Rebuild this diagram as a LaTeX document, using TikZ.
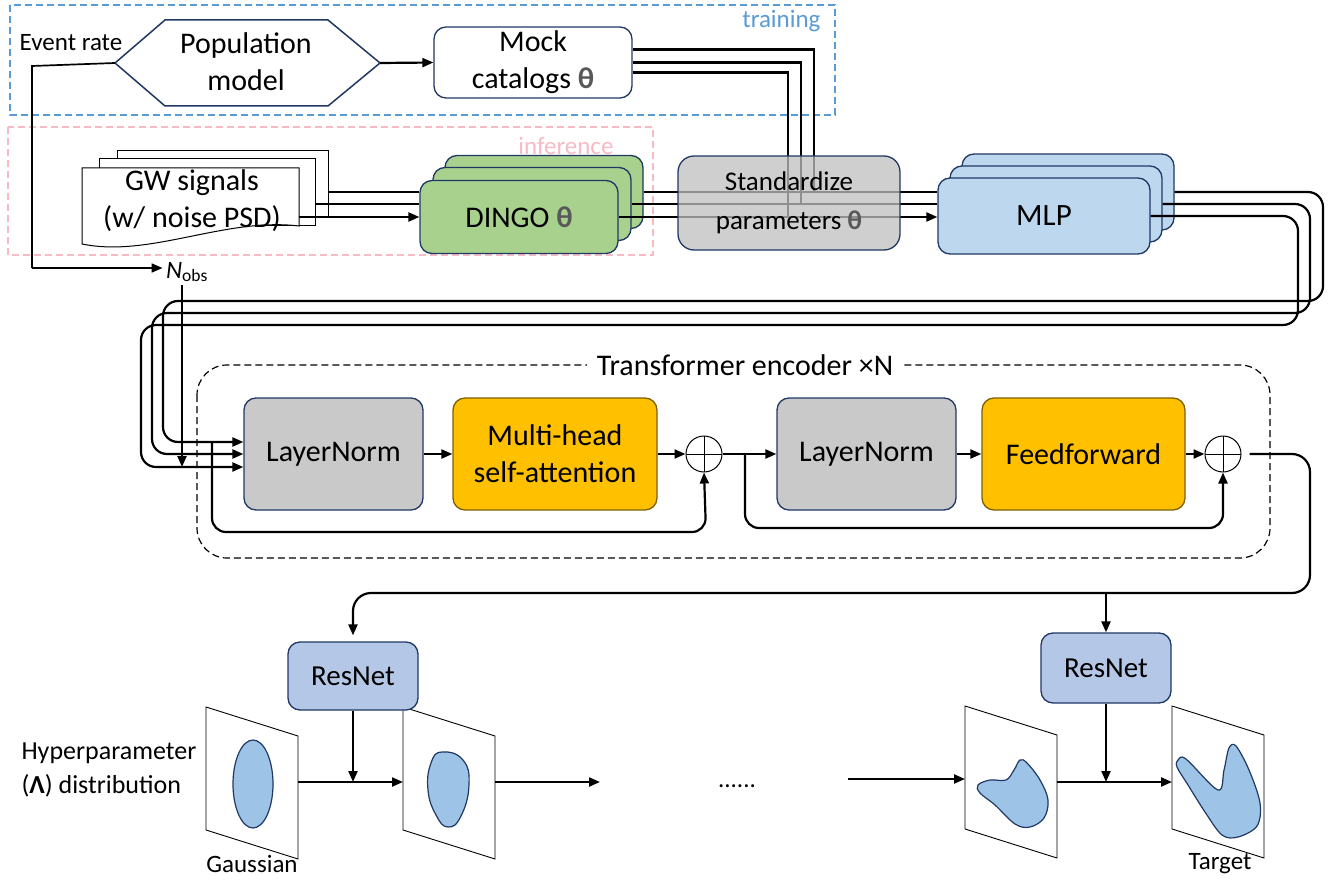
\documentclass[tikz,border=0pt]{standalone}
\usepackage{fontspec}
\setmainfont{Carlito}
\usetikzlibrary{arrows.meta,calc}
\definecolor{navy}{HTML}{203864}
\definecolor{dgreen}{HTML}{A9D18E}
\definecolor{mlpblue}{HTML}{BDD7EE}
\definecolor{lngray}{HTML}{C9C9C9}
\definecolor{stdgray}{HTML}{C0C0C0}
\definecolor{gold}{HTML}{FFC000}
\definecolor{goldline}{HTML}{7F6000}
\definecolor{resblue}{HTML}{B4C7E7}
\definecolor{blobblue}{HTML}{9DC3E6}
\definecolor{trainblue}{HTML}{5B9BD5}
\definecolor{infpink}{HTML}{F8BBC6}
\definecolor{thgray}{HTML}{595959}
\newcommand\myfs[2]{\fontsize{#1}{#2}\selectfont}
\newcommand\mytheta{\textcolor{thgray}{\textbf{θ}}}
\newcommand\myplane[2]{\draw[line width=0.9pt, fill=white] (#1,#2) -- ++(92,29) -- ++(0,123) -- ++(-92,-29) -- cycle;}
\begin{document}
\begin{tikzpicture}[x=1pt,y=-1pt,
  wire/.style={line width=2.2pt},
  thinwire/.style={line width=1.7pt},
  arr/.style={line width=2.2pt,-{Triangle[length=11pt,width=9pt]}},
  box/.style={draw=navy,line width=1.3pt,rounded corners=12pt,align=center,inner sep=0pt},
  big/.style={font=\myfs{30}{37}},
  small/.style={font=\myfs{25}{30}},
  regionbox/.style={line width=1.3pt,dash pattern=on 7pt off 4pt},
  oplus/.style={circle,draw,line width=1pt,minimum size=36pt,inner sep=0pt,
    path picture={\draw[line width=1pt] (path picture bounding box.north) -- (path picture bounding box.south)
      (path picture bounding box.west) -- (path picture bounding box.east);}},
  blob/.style={draw=navy,line width=1.2pt,fill=blobblue}]
\fill[white] (0,0) rectangle (1328,880);
\useasboundingbox (0,0) rectangle (1328,880);

% ---------- regions ----------
\draw[regionbox, trainblue] (10,5) rectangle (835,115);
\node[small, text=trainblue, anchor=east] (trainlbl) at (824,21) {training};
\draw[regionbox, infpink] (8,127) rectangle (653,255);
\node[small, text=infpink, anchor=east] (inflbl) at (617,146) {inference};

% ---------- population model ----------
\node[small] (evr) at (71,43) {Event rate};
\draw[navy, line width=1.5pt, fill=white] (115,63) -- (165,20) -- (328,20) -- (380,63) -- (328,106) -- (165,106) -- cycle;
\node[big, align=center] (pop) at (246,62) {Population\\model};
\coordinate (popL) at (115,63);
\coordinate (popR) at (380,63);
\node[box, big, fill=white, minimum width=198pt, minimum height=71pt] (mock) at (533,62.5) {Mock\\catalogs \mytheta};
\draw[arr] (popR) -- (mock.west);

% event rate -> N_obs
\node[small] (nobs) at (187,272) {\textit{N}\textsubscript{obs}};
\coordinate (erc) at (32,66);
\coordinate (erd) at (32,268);
\draw[thinwire] (popL) -- (erc) -- (erd);
\draw[arr, line width=1.7pt] (erd) -- (erd -| nobs.west);

% ---------- GW signals ----------
\draw[line width=1pt, fill=white] (117,151) rectangle (328,216);
\draw[line width=1pt, fill=white] (99,159) rectangle (315,225);
\draw[line width=1pt, fill=white] (82,168) -- (299,168) -- (299,226) .. controls (225,217) and (150,258) .. (82,244) -- cycle;
\node[big, align=center] (gw) at (192,201) {GW signals\\(w/ noise PSD)};
\coordinate (gwA) at (328,192);
\coordinate (gwB) at (315,204);
\coordinate (gwC) at (299,217);

% ---------- DINGO ----------
\node[box, fill=dgreen, minimum width=198pt, minimum height=73pt] (dB) at (544,192) {};
\node[box, fill=dgreen, minimum width=198pt, minimum height=73pt] (dM) at (532,204) {};
\node[box, big, fill=dgreen, minimum width=198pt, minimum height=73pt] (dF) at (519,217) {DINGO \mytheta};
\draw[wire] (gwA) -- (gwA -| dF.west);
\draw[wire] (gwB) -- (gwB -| dF.west);
\draw[arr] (gwC) -- (gwC -| dF.west);

% ---------- MLP ----------
\node[box, fill=mlpblue, minimum width=212pt, minimum height=76pt] (mB) at (1068,192) {};
\node[box, fill=mlpblue, minimum width=212pt, minimum height=76pt] (mM) at (1056,204) {};
\node[box, fill=mlpblue, minimum width=212pt, minimum height=76pt, font=\myfs{31}{37}] (mF) at (1044,216) {MLP};

\draw[wire] (dB.east) -- (dB.east -| mF.west);
\draw[wire] (dM.east) -- (dM.east -| mF.west);
\draw[arr] (dF.east) -- (dF.east -| mF.west);

\coordinate (jA) at (814,192);
\coordinate (jB) at (801,204);
\coordinate (jC) at (788,217);
\draw[wire] ($(mock.east)+(0,-13)$) -| (jA);
\draw[wire] ($(mock.east)+(0,0)$) -| (jB);
\draw[wire] ($(mock.east)+(0,10)$) -| (jC);

% ---------- Standardize ----------
\node[box, fill=stdgray, fill opacity=0.75, text opacity=1, rounded corners=16pt,
  minimum width=222pt, minimum height=94pt, font=\myfs{27}{39}] (std) at (789,203) {Standardize\\parameters \mytheta};

% ---------- Transformer ----------
\draw[line width=1.2pt, dash pattern=on 7pt off 4pt, rounded corners=30pt] (197,365) rectangle (1270,558);
\node[big, fill=white, inner xsep=10pt] (tlabel) at (745,365) {Transformer encoder ×N};

\node[box, big, fill=lngray, minimum width=179pt, minimum height=112pt] (ln1) at (333.5,454) {LayerNorm};
\node[box, big, fill=gold, draw=goldline, minimum width=204pt, minimum height=112pt] (mha) at (555,454) {Multi-head\\self-attention};
\node[oplus] (p1) at (704,454) {};
\node[box, big, fill=lngray, minimum width=179pt, minimum height=112pt] (ln2) at (866.5,454) {LayerNorm};
\node[box, big, fill=gold, draw=goldline, minimum width=203pt, minimum height=112pt] (ff) at (1083.5,454) {Feedforward};
\node[oplus] (p2) at (1223,454) {};

\draw[arr] (ln1.east) -- (mha.west);
\draw[arr] (mha.east) -- (p1.west);
\draw[arr] (p1.east) -- (ln2.west);
\draw[arr] (ln2.east) -- (ff.west);
\draw[arr] (ff.east) -- (p2.west);

\coordinate (s1) at (212,442);
\coordinate (s2) at (745,454);
\draw[arr, rounded corners=14pt] (s1) -- (212,532) -- (706,532) -- (p1.south);
\draw[arr, rounded corners=14pt] (s2) -- (745,528) -- (1223,528) -- (p2.south);

% MLP -> LayerNorm wires
\draw[arr, rounded corners=15pt] (mB.east) -- (1323,192) -- (1323,301) -- (163,301) -- (163,442) -- ($(ln1.west)+(0,-12)$);
\draw[arr, rounded corners=15pt] (mM.east) -- (1310,204) -- (1310,313) -- (152,313) -- (152,454) -- (ln1.west);
\draw[arr, rounded corners=15pt] (mF.east) -- (1298,216) -- (1298,325) -- (141,325) -- (141,467) -- ($(ln1.west)+(0,13)$);

% N_obs -> input
\coordinate (nin) at (182,467);
\draw[arr] ($(nobs.south)+(-5,0)$) -- (nin);

% ---------- bottom flow ----------
\myplane{206}{707}
\myplane{403}{707}
\myplane{965}{706}
\myplane{1172}{706}

\node[box, fill=resblue, minimum width=130pt, minimum height=68pt, font=\myfs{29}{35}] (r1) at (353,676) {ResNet};
\node[box, fill=resblue, minimum width=130pt, minimum height=70pt, font=\myfs{29}{35}] (r2) at (1106,668) {ResNet};

\coordinate (br) at (1106,593);
\draw[arr, rounded corners=18pt, shorten >=6pt] ($(p2.east)+(8,0)$) -- (1310,454) -- (1310,593) -- (353,593) -- (r1.north);
\draw[arr] (br) -- (r2.north);

\coordinate (f1a) at (298,782);
\coordinate (f1b) at (403,782);
\coordinate (f2a) at (495,782);
\coordinate (f2b) at (600,782);
\coordinate (f3a) at (848,779);
\coordinate (f3b) at (965,779);
\coordinate (f4a) at (1057,782);
\coordinate (f4b) at (1172,782);
\draw[arr] (f1a) -- (f1b);
\draw[arr] (f2a) -- (f2b);
\draw[arr] (f3a) -- (f3b);
\draw[arr] (f4a) -- (f4b);
\draw[arr] (r1.south) -- (r1.south |- f1a);
\draw[arr] (r2.south) -- (r2.south |- f4a);

\node[small] (dots) at (737,786) {......};

% distributions
\draw[blob] (253,784) ellipse [x radius=20, y radius=44];
\draw[blob] plot[smooth cycle, tension=0.8] coordinates {(442,752) (431,763) (428,790) (436,815) (448,827) (461,816) (469,785) (463,760)};
\draw[blob] plot[smooth cycle, tension=0.6] coordinates {(978,785) (990,780) (1006,780) (1014,770) (1020,760) (1027,763) (1040,780) (1048,800) (1044,818) (1030,827) (1015,824) (995,805) (980,793)};
\draw[blob] plot[smooth cycle, tension=0.55] coordinates {(1178,760) (1186,759) (1218,790) (1224,770) (1229,748) (1236,746) (1249,770) (1260,803) (1257,826) (1238,837) (1222,835) (1205,812) (1188,785) (1177,767)};

\node[font=\myfs{26}{34}, align=left, anchor=west] (hyp) at (18,770) {Hyperparameter\\(\textbf{Λ}) distribution};
\node[small] (gauss) at (252,864) {Gaussian};
\node[small] (target) at (1220,864) {Target};
\end{tikzpicture}
\end{document}
